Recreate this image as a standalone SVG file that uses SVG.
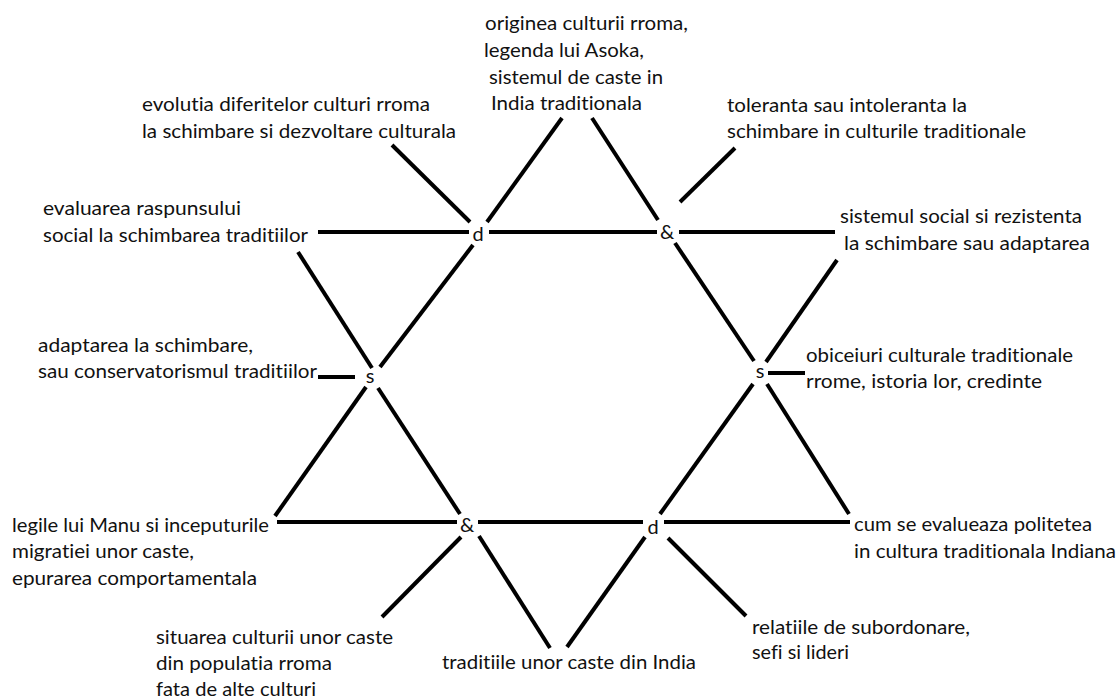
<svg xmlns="http://www.w3.org/2000/svg" width="1120" height="699" viewBox="0 0 1120 699">
<style>
.t,.c{font-family:Lato,"Liberation Sans",sans-serif;font-size:20px;fill:#111;font-variant-ligatures:none;font-feature-settings:"liga" 0,"clig" 0}
.c{text-anchor:middle}
.l{stroke:#000;stroke-width:4;fill:none}
</style>
<rect width="1120" height="699" fill="#fff"/>
<g id="connectors">
<line class="l" x1="318" y1="232" x2="469" y2="232"/>
<line class="l" x1="489" y1="232" x2="657" y2="232"/>
<line class="l" x1="679" y1="232" x2="835" y2="232"/>
<line class="l" x1="277" y1="522" x2="457" y2="522"/>
<line class="l" x1="478" y1="522" x2="643" y2="522"/>
<line class="l" x1="664" y1="522" x2="850" y2="522"/>
<line class="l" x1="562" y1="118" x2="487" y2="222"/>
<line class="l" x1="473" y1="245" x2="380" y2="367"/>
<line class="l" x1="366" y1="387" x2="275" y2="516"/>
<line class="l" x1="592" y1="118" x2="658" y2="220"/>
<line class="l" x1="675" y1="243" x2="754" y2="361"/>
<line class="l" x1="767" y1="384" x2="849" y2="514"/>
<line class="l" x1="298" y1="252" x2="372" y2="368"/>
<line class="l" x1="378" y1="388" x2="460" y2="514"/>
<line class="l" x1="479" y1="536" x2="550" y2="648"/>
<line class="l" x1="837" y1="260" x2="766" y2="362"/>
<line class="l" x1="753" y1="384" x2="660" y2="514"/>
<line class="l" x1="645" y1="537" x2="567" y2="647"/>
<line class="l" x1="392" y1="145" x2="470" y2="222"/>
<line class="l" x1="680" y1="202" x2="735" y2="148"/>
<line class="l" x1="318" y1="377" x2="355" y2="377"/>
<line class="l" x1="768" y1="373" x2="805" y2="373"/>
<line class="l" x1="461" y1="537" x2="382" y2="617"/>
<line class="l" x1="668" y1="538" x2="746" y2="616"/>
</g>
<g id="hub-d-top"><text class="c" x="478" y="241">d</text></g>
<g id="hub-amp-top"><text class="c" x="667" y="239">&amp;</text></g>
<g id="hub-s-left"><text class="c" x="370" y="383">s</text></g>
<g id="hub-s-right"><text class="c" x="760" y="378">s</text></g>
<g id="hub-amp-bottom"><text class="c" x="467" y="532">&amp;</text></g>
<g id="hub-d-bottom"><text class="c" x="653" y="534">d</text></g>
<g id="n-origine">
<text class="t" x="485" y="30" textLength="203" lengthAdjust="spacingAndGlyphs">originea culturii rroma,</text>
<text class="t" x="484" y="57" textLength="160" lengthAdjust="spacingAndGlyphs">legenda lui Asoka,</text>
<text class="t" x="489" y="84" textLength="174" lengthAdjust="spacingAndGlyphs">sistemul de caste in</text>
<text class="t" x="491" y="110" textLength="151" lengthAdjust="spacingAndGlyphs">India traditionala</text>
</g>
<g id="n-evolutia">
<text class="t" x="142" y="111" textLength="288" lengthAdjust="spacingAndGlyphs">evolutia diferitelor culturi rroma</text>
<text class="t" x="142" y="138" textLength="314" lengthAdjust="spacingAndGlyphs">la schimbare si dezvoltare culturala</text>
</g>
<g id="n-toleranta">
<text class="t" x="727" y="112" textLength="240" lengthAdjust="spacingAndGlyphs">toleranta sau intoleranta la</text>
<text class="t" x="727" y="138" textLength="299" lengthAdjust="spacingAndGlyphs">schimbare in culturile traditionale</text>
</g>
<g id="n-evaluarea">
<text class="t" x="43" y="215" textLength="198" lengthAdjust="spacingAndGlyphs">evaluarea raspunsului</text>
<text class="t" x="43" y="242" textLength="265" lengthAdjust="spacingAndGlyphs">social la schimbarea traditiilor</text>
</g>
<g id="n-sistemul">
<text class="t" x="840" y="223" textLength="242" lengthAdjust="spacingAndGlyphs">sistemul social si rezistenta</text>
<text class="t" x="844" y="250" textLength="246" lengthAdjust="spacingAndGlyphs">la schimbare sau adaptarea</text>
</g>
<g id="n-adaptarea">
<text class="t" x="38" y="352" textLength="215" lengthAdjust="spacingAndGlyphs">adaptarea la schimbare,</text>
<text class="t" x="38" y="378" textLength="279" lengthAdjust="spacingAndGlyphs">sau conservatorismul traditiilor</text>
</g>
<g id="n-obiceiuri">
<text class="t" x="806" y="362" textLength="267" lengthAdjust="spacingAndGlyphs">obiceiuri culturale traditionale</text>
<text class="t" x="806" y="388" textLength="236" lengthAdjust="spacingAndGlyphs">rrome, istoria lor, credinte</text>
</g>
<g id="n-legile">
<text class="t" x="12" y="532" textLength="257" lengthAdjust="spacingAndGlyphs">legile lui Manu si inceputurile</text>
<text class="t" x="12" y="558" textLength="182" lengthAdjust="spacingAndGlyphs">migratiei unor caste,</text>
<text class="t" x="12" y="585" textLength="245" lengthAdjust="spacingAndGlyphs">epurarea comportamentala</text>
</g>
<g id="n-cum">
<text class="t" x="854" y="531" textLength="238" lengthAdjust="spacingAndGlyphs">cum se evalueaza politetea</text>
<text class="t" x="854" y="558" textLength="262" lengthAdjust="spacingAndGlyphs">in cultura traditionala Indiana</text>
</g>
<g id="n-situarea">
<text class="t" x="156" y="644" textLength="237" lengthAdjust="spacingAndGlyphs">situarea culturii unor caste</text>
<text class="t" x="156" y="670" textLength="176" lengthAdjust="spacingAndGlyphs">din populatia rroma</text>
<text class="t" x="156" y="696" textLength="160" lengthAdjust="spacingAndGlyphs">fata de alte culturi</text>
</g>
<g id="n-traditiile">
<text class="t" x="442" y="669" textLength="254" lengthAdjust="spacingAndGlyphs">traditiile unor caste din India</text>
</g>
<g id="n-relatiile">
<text class="t" x="752" y="634" textLength="218" lengthAdjust="spacingAndGlyphs">relatiile de subordonare,</text>
<text class="t" x="752" y="659" textLength="97" lengthAdjust="spacingAndGlyphs">sefi si lideri</text>
</g>
</svg>
